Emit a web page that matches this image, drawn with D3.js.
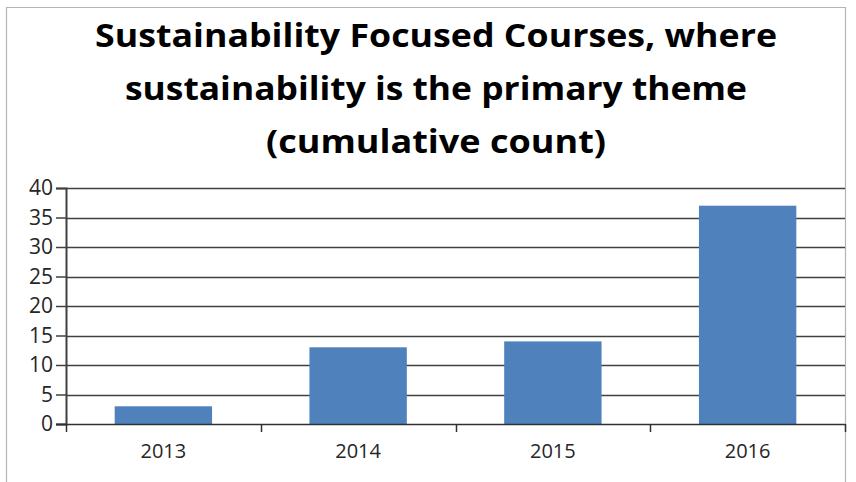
<!DOCTYPE html>
<html>
<head>
<meta charset="utf-8">
<script src="https://cdn.jsdelivr.net/npm/d3@7"></script>
<style>
  body { margin: 0; background: #fff; }
  svg text { font-family: "Open Sans", "Liberation Sans", sans-serif; }
</style>
</head>
<body>
<div id="chart"></div>
<script>
const years = ["2013", "2014", "2015", "2016"];
const courses = [3, 13, 14, 37];
const yTicks = [0, 5, 10, 15, 20, 25, 30, 35, 40];
const titleLines = [
  "Sustainability Focused Courses, where",
  "sustainability is the primary theme",
  "(cumulative count)"
];

const W = 856, H = 482;
const margin = {left: 66, right: 11, top: 188, bottom: 58};
const width = W - margin.left - margin.right,
      height = H - margin.top - margin.bottom;

const svg = d3.select("#chart").append("svg")
    .attr("width", W)
    .attr("height", H);

// chart frame (clipped at the bottom like the original)
svg.append("path")
    .attr("d", "M6.5," + H + "V7.5H845.5V" + H)
    .attr("fill", "none")
    .attr("stroke", "#b4b4b4")
    .attr("stroke-width", 1.2);

// title
const titleWidths = [682, 622, 340];
svg.append("g").selectAll("text")
    .data(titleLines)
    .enter().append("text")
    .attr("x", 436)
    .attr("y", (d, i) => 47 + i * 53)
    .attr("text-anchor", "middle")
    .attr("font-size", 32)
    .attr("font-weight", "bold")
    .attr("fill", "#000")
    .attr("textLength", (d, i) => titleWidths[i])
    .attr("lengthAdjust", "spacingAndGlyphs")
    .text(d => d);

const g = svg.append("g")
    .attr("transform", "translate(" + margin.left + "," + margin.top + ")");

const x = d3.scaleBand()
    .domain(years)
    .range([0, width])
    .paddingInner(0.5)
    .paddingOuter(0.25);

const y = d3.scaleLinear()
    .domain([0, 40])
    .range([height, 0]);

// gridlines
g.append("g").selectAll("line")
    .data(yTicks.slice(1))
    .enter().append("line")
    .attr("x1", 0)
    .attr("x2", width)
    .attr("y1", d => Math.round(y(d)) + 0.5)
    .attr("y2", d => Math.round(y(d)) + 0.5)
    .attr("stroke", "#404040")
    .attr("stroke-width", 1.5);

// bars
g.selectAll(".bar")
    .data(courses)
    .enter().append("rect")
    .attr("class", "bar")
    .attr("x", (d, i) => x(years[i]))
    .attr("width", x.bandwidth())
    .attr("y", d => y(d))
    .attr("height", d => height - y(d))
    .attr("fill", "#4f81bd");

// y axis
const yAxis = g.append("g")
    .call(d3.axisLeft(y).tickValues(yTicks).tickSize(10).tickPadding(3));
yAxis.select(".domain").attr("stroke", "#404040").attr("stroke-width", 2);
yAxis.selectAll(".tick line").attr("stroke", "#404040").attr("stroke-width", 1.5);
yAxis.selectAll("text")
    .attr("font-size", 21)
    .attr("fill", "#262626")
    .style("font-family", "'Open Sans', sans-serif");

// x axis with ticks at the category boundaries
const xAxis = g.append("g")
    .attr("transform", "translate(0," + height + ")");
xAxis.append("line")
    .attr("x1", -10).attr("x2", width)
    .attr("y1", 0.5).attr("y2", 0.5)
    .attr("stroke", "#303030")
    .attr("stroke-width", 1.5);
const step = x.step();
xAxis.selectAll(".xtick")
    .data(d3.range(years.length + 1))
    .enter().append("line")
    .attr("class", "xtick")
    .attr("x1", i => Math.round(i * step) + 0.5)
    .attr("x2", i => Math.round(i * step) + 0.5)
    .attr("y1", 0)
    .attr("y2", 8)
    .attr("stroke", "#303030")
    .attr("stroke-width", 1.5);
xAxis.selectAll(".xlabel")
    .data(years)
    .enter().append("text")
    .attr("class", "xlabel")
    .attr("x", d => x(d) + x.bandwidth() / 2)
    .attr("y", 34)
    .attr("text-anchor", "middle")
    .attr("font-size", 20)
    .attr("fill", "#262626")
    .text(d => d);
</script>
</body>
</html>
